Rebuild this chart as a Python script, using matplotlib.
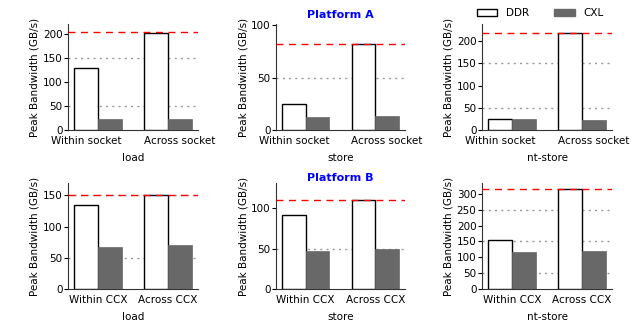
import matplotlib
matplotlib.use("Agg")
import matplotlib.pyplot as plt
from matplotlib.patches import Patch
import numpy as np

plt.rcParams["font.family"] = ["DejaVu Sans"]
plt.rcParams["font.size"] = 7.5

# Platform A (sockets) and Platform B (CCX) peak bandwidth, GB/s
groups_a = ["Within socket", "Across socket"]
groups_b = ["Within CCX", "Across CCX"]
ops = ["load", "store", "nt-store"]

ddr_a = [[130, 202], [25, 82], [24, 218]]
cxl_a = [[23, 23], [12, 13.5], [25.5, 22.5]]
peak_a = [205, 82, 218]
ytop_a = [221, 101, 239]

ddr_b = [[134.5, 150], [92, 110], [154, 314]]
cxl_b = [[67, 70.5], [47, 49], [117, 120]]
peak_b = [150, 110, 314]
ytop_b = [170, 131, 334]

yticks = [[0, 50, 100, 150, 200], [0, 50, 100], [0, 50, 100, 150, 200],
          [0, 50, 100, 150], [0, 50, 100], [0, 50, 100, 150, 200, 250, 300]]

W, H = 637, 322
fig = plt.figure(figsize=(W / 100, H / 100), dpi=100)

col_left = [68, 276, 482]
col_w = [130, 129, 130]
row_top = [24, 183]
row_h = 106

width = 0.34
ddr_color = "white"
cxl_color = "#686868"


def draw(ax, groups, ddr, cxl, peak, ytop, ticks, xlabel, label_shift):
    x = np.arange(len(groups))
    ax.bar(x - width / 2, ddr, width, color=ddr_color, edgecolor="black",
           linewidth=1.0, zorder=3)
    ax.bar(x + width / 2, cxl, width, color=cxl_color, edgecolor=cxl_color,
           linewidth=0.5, zorder=3)
    for g in (50, 150, 250):
        if g < ytop:
            ax.axhline(g, color="#999999", linestyle=(0, (1.5, 3)),
                       linewidth=1.0, zorder=1)
    ax.axhline(peak, color="red", linestyle=(0, (5, 4)), linewidth=1.0,
               zorder=4)
    ax.set_ylim(0, ytop)
    ax.set_yticks(ticks)
    # long labels are spread apart so they do not collide
    ax.set_xticks(x + np.array([-label_shift, label_shift]))
    ax.set_xticklabels(groups)
    ax.tick_params(axis="x", length=0, pad=4.5)
    ax.tick_params(axis="y", length=3, pad=1)
    ax.set_xlabel(xlabel, labelpad=5)
    ax.set_ylabel("Peak Bandwidth (GB/s)", labelpad=2)
    for s in ("top", "right"):
        ax.spines[s].set_visible(False)
    for s in ("left", "bottom"):
        ax.spines[s].set_color("#333333")


axes = []
for r, (ddr, cxl, peak, ytop, groups, shift) in enumerate(
        [(ddr_a, cxl_a, peak_a, ytop_a, groups_a, 0.167),
         (ddr_b, cxl_b, peak_b, ytop_b, groups_b, 0.0)]):
    row = []
    for c in range(3):
        rect = [col_left[c] / W, 1 - (row_top[r] + row_h) / H,
                col_w[c] / W, row_h / H]
        ax = fig.add_axes(rect)
        draw(ax, groups, ddr[c], cxl[c], peak[c], ytop[c],
             yticks[r * 3 + c], ops[c], shift)
        row.append(ax)
    axes.append(row)

axes[0][1].set_title("Platform A", color="blue", fontweight="bold",
                     fontsize=8, pad=4)
axes[1][1].set_title("Platform B", color="blue", fontweight="bold",
                     fontsize=8, pad=-3)

handles = [Patch(facecolor=ddr_color, edgecolor="black", linewidth=1.0),
           Patch(facecolor=cxl_color, edgecolor=cxl_color)]
fig.legend(handles, ["DDR", "CXL"], ncol=2, frameon=False,
           loc="center", bbox_to_anchor=(540 / W, 1 - 13 / H),
           handlelength=2.0, handleheight=0.7, columnspacing=2.4,
           handletextpad=0.8, fontsize=7.5)

fig.savefig("out.png", dpi=100)
